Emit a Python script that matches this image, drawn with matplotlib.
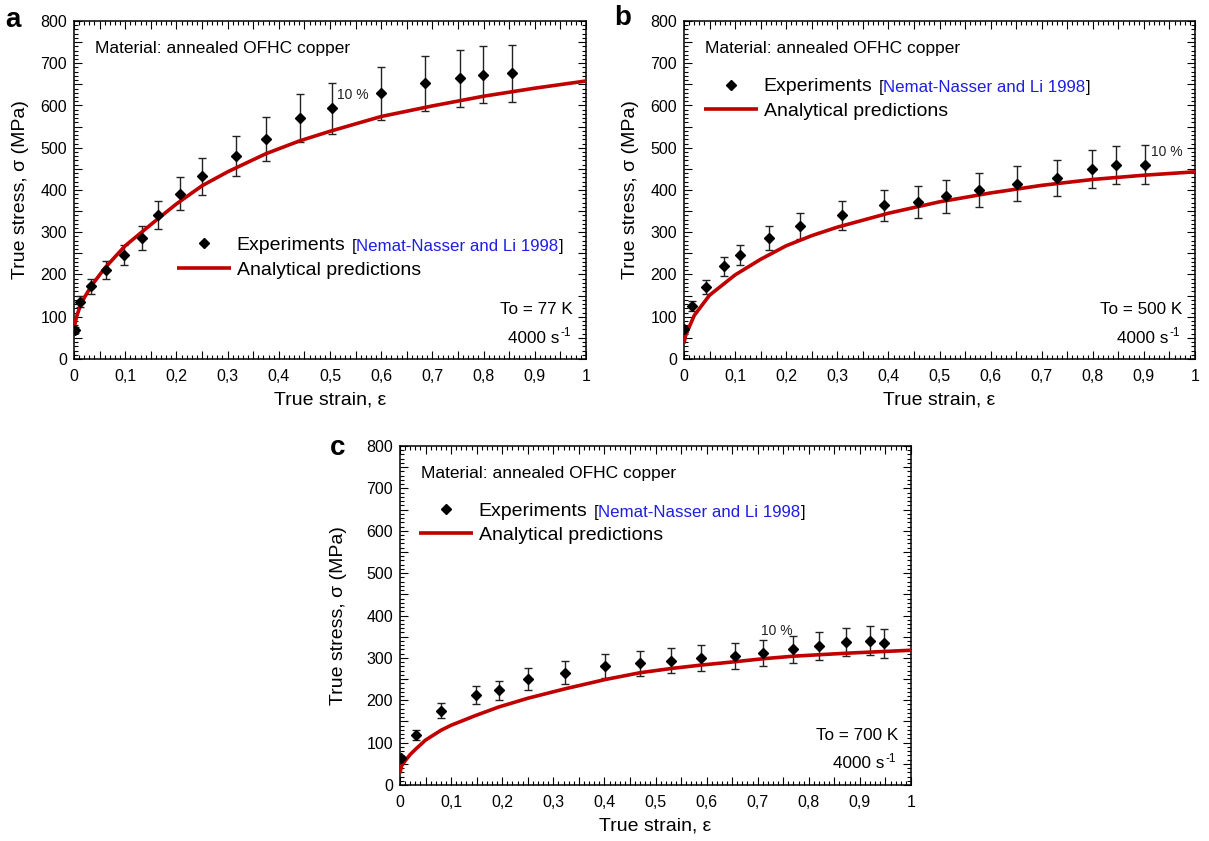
import matplotlib
matplotlib.use("Agg")
import matplotlib.pyplot as plt
from matplotlib.ticker import MultipleLocator, FuncFormatter

plt.rcParams['font.family'] = ['Liberation Sans', 'DejaVu Sans']

# ---------------- data ----------------
# Panel a: To = 77 K
exp_strain_a = [0.0014, 0.012, 0.034, 0.062, 0.097, 0.132, 0.164, 0.207, 0.25,
                0.316, 0.375, 0.441, 0.504, 0.599, 0.686, 0.753, 0.799, 0.856]
exp_stress_a = [68, 136, 172, 211, 246, 286, 341, 391, 432,
                480, 520, 570, 593, 629, 653, 664, 673, 676]
model_strain_a = [0, 0.005, 0.01, 0.02, 0.035, 0.06, 0.1, 0.13, 0.165, 0.2, 0.25,
                  0.3, 0.375, 0.44, 0.5, 0.6, 0.7, 0.8, 0.9, 1.0]
model_stress_a = [72, 100, 118, 145, 175, 215, 268, 298, 333, 367, 410,
                  443, 486, 516, 539, 574, 599, 622, 641, 658]

# Panel b: To = 500 K
exp_strain_b = [0.0, 0.015, 0.043, 0.078, 0.110, 0.167, 0.227, 0.31, 0.392,
                0.458, 0.513, 0.578, 0.652, 0.73, 0.799, 0.845, 0.903]
exp_stress_b = [72, 125, 171, 219, 246, 287, 315, 340, 364,
                372, 385, 401, 415, 428, 449, 459, 460]
model_strain_b = [0, 0.003, 0.01, 0.02, 0.05, 0.1, 0.15, 0.2, 0.25, 0.3,
                  0.4, 0.5, 0.6, 0.7, 0.8, 0.9, 1.0]
model_stress_b = [37, 55, 75, 103, 151, 199, 236, 268, 292, 312,
                  345, 372, 393, 411, 425, 435, 443]

# Panel c: To = 700 K
exp_strain_c = [0.001, 0.031, 0.080, 0.148, 0.193, 0.251, 0.323, 0.402, 0.470,
                0.531, 0.589, 0.656, 0.711, 0.770, 0.820, 0.873, 0.919, 0.948]
exp_stress_c = [63, 118, 175, 213, 224, 250, 265, 281, 287,
                293, 300, 304, 311, 320, 329, 337, 341, 334]
model_strain_c = [0, 0.003, 0.01, 0.02, 0.031, 0.05, 0.08, 0.1, 0.148, 0.193,
                  0.251, 0.323, 0.402, 0.47, 0.531, 0.589, 0.656, 0.711, 0.77,
                  0.873, 1.0]
model_stress_c = [28, 45, 57, 72, 85, 106, 129, 141, 164, 184,
                  205, 227, 249, 265, 275, 283, 291, 298, 304,
                  311, 318]

# relative experimental scatter
scatter_frac = 0.10
scatter_label = "10 %"

temperatures = ["To = 77 K", "To = 500 K", "To = 700 K"]
panel_letters = ["a", "b", "c"]
material_text = "Material: annealed OFHC copper"
exp_label = "Experiments"
ref_label = "Nemat-Nasser and Li 1998"
model_label = "Analytical predictions"
rate_text = "4000 s"
rate_exp = "-1"

# ---------------- styling ----------------
RED = "#C00000"
BLUE = "#1E1EE6"

fig = plt.figure(figsize=(12.09, 8.41), dpi=100)

W, H = 1209, 841


def axes_rect(left, top, right, bottom):
    return [left / W, 1 - bottom / H, (right - left) / W, (bottom - top) / H]


rects = [axes_rect(74, 21, 586, 359),
         axes_rect(684, 21, 1195, 359),
         axes_rect(400, 446, 911, 785)]

letter_pos = [(13, 20), (623, 18), (338, 448)]
ylabel_pads = [8, 8, 14]

# legend anchor (axes fraction, upper-left of the handle column)
legend_anchor = [(0.202, 0.362), (0.040, 0.832), (0.038, 0.835)]
# "10 %" annotation anchor (data coords, left/center)
pct_anchor = [(0.513, 626), (0.913, 490), (0.707, 364)]


def comma_fmt(v, pos):
    if abs(v - round(v)) < 1e-9:
        return "%d" % round(v)
    if abs(v * 10 - round(v * 10)) > 1e-6:
        return ""
    return ("%.1f" % v).replace(".", ",")


def ytick_fmt(v, pos):
    if int(round(v)) % 100 != 0:
        return ""
    return "%d" % round(v)


panels = [
    (exp_strain_a, exp_stress_a, model_strain_a, model_stress_a),
    (exp_strain_b, exp_stress_b, model_strain_b, model_stress_b),
    (exp_strain_c, exp_stress_c, model_strain_c, model_stress_c),
]

for i, (xs, ys, mx, my) in enumerate(panels):
    ax = fig.add_axes(rects[i])
    yerr = [scatter_frac * v for v in ys]
    ax.errorbar(xs, ys, yerr=yerr, fmt="none", ecolor="#222222",
                elinewidth=1.0, capsize=2.8, capthick=1.0, zorder=2)
    ax.plot(mx, my, color=RED, lw=2.6, solid_capstyle="butt", zorder=3,
            label=model_label)
    ax.plot(xs, ys, linestyle="none", marker="D", ms=5.4, color="black",
            zorder=4, label=exp_label)

    ax.set_xlim(0, 1)
    ax.set_ylim(0, 800)
    ax.xaxis.set_major_locator(MultipleLocator(0.05))
    ax.xaxis.set_minor_locator(MultipleLocator(0.01))
    ax.yaxis.set_major_locator(MultipleLocator(50))
    ax.yaxis.set_minor_locator(MultipleLocator(10))
    ax.xaxis.set_major_formatter(FuncFormatter(comma_fmt))
    ax.yaxis.set_major_formatter(FuncFormatter(ytick_fmt))
    ax.tick_params(which="both", direction="in", top=True, right=True,
                   width=0.8, colors="black")
    ax.tick_params(which="major", length=5.5, labelsize=11.5)
    ax.tick_params(which="minor", length=2.8)
    ax.tick_params(axis="x", which="major", pad=7.5)
    ax.tick_params(axis="y", which="major", pad=5)
    for sp in ax.spines.values():
        sp.set_linewidth(1.1)

    ax.set_xlabel("True strain, ε", fontsize=14, labelpad=5)
    ax.set_ylabel("True stress, σ (MPa)", fontsize=14,
                  labelpad=ylabel_pads[i])

    ax.text(0.041, 0.92, material_text, transform=ax.transAxes,
            fontsize=12.5, ha="left", va="center")
    ax.text(0.975, 0.145, temperatures[i], transform=ax.transAxes,
            fontsize=12.3, ha="right", va="center")
    rt = ax.text(0.948, 0.062, rate_text, transform=ax.transAxes,
                 fontsize=12.3, ha="right", va="center")
    ax.annotate(rate_exp, xy=(1, 1), xycoords=rt, xytext=(0.5, 2.5),
                textcoords="offset points", ha="left", va="top",
                fontsize=8.5, zorder=10)

    px, py = pct_anchor[i]
    ax.text(px, py, scatter_label, fontsize=10, ha="left", va="center",
            color="#222222")

    handles, labels = ax.get_legend_handles_labels()
    order = [1, 0]
    leg = ax.legend([handles[k] for k in order], [labels[k] for k in order],
                    loc="upper left", bbox_to_anchor=legend_anchor[i],
                    frameon=False, fontsize=14, handlelength=2.75,
                    handletextpad=0.3, labelspacing=0.36, borderpad=0,
                    borderaxespad=0, numpoints=1)
    leg.set_zorder(5)
    exp_text = leg.get_texts()[0]
    a1 = ax.annotate("[", xy=(1, 0), xycoords=exp_text, xytext=(4.5, 0),
                     textcoords="offset points", ha="left", va="bottom",
                     fontsize=12.2, color="black", zorder=10)
    a2 = ax.annotate(ref_label, xy=(1, 0), xycoords=a1, ha="left",
                     va="bottom", fontsize=12.2, color=BLUE, zorder=11)
    ax.annotate("]", xy=(1, 0), xycoords=a2, ha="left", va="bottom",
                fontsize=12.2, color="black", zorder=12)

    lx, ly = letter_pos[i]
    fig.text(lx / W, 1 - ly / H, panel_letters[i], fontsize=20,
             fontweight="bold", ha="center", va="center")

fig.savefig("out.png", dpi=100)
